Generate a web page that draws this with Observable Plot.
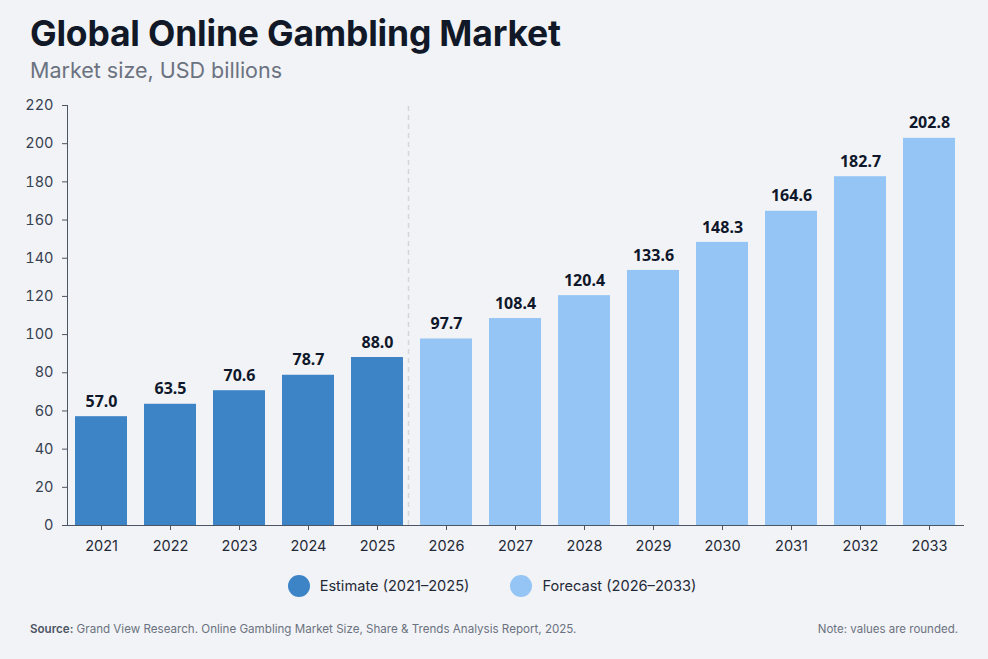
<!DOCTYPE html>
<html><head><meta charset="utf-8">
<script src="https://cdn.jsdelivr.net/npm/d3@7"></script>
<script src="https://cdn.jsdelivr.net/npm/@observablehq/plot@0.6"></script>
<style>
body{margin:0;background:#f2f3f6;font-family:Inter,sans-serif;}
#wrap{position:relative;width:988px;height:659px;overflow:hidden;background:#f2f3f6;}
#title{position:absolute;left:30px;top:11px;font-size:35.5px;line-height:46px;font-weight:750;color:#111827;letter-spacing:-0.2px;white-space:nowrap;}
#subtitle{position:absolute;left:30px;top:56px;font-size:21.5px;line-height:28px;color:#6b7280;white-space:nowrap;}
#chart{position:absolute;left:0;top:90px;}
#legend{position:absolute;left:0;width:988px;top:574px;display:flex;justify-content:center;gap:41px;font-size:14.6px;color:#1f2937;padding-right:4px;box-sizing:border-box;}
.item{display:flex;align-items:center;gap:10px;line-height:24px;}
.sw{width:22px;height:22px;border-radius:50%;display:inline-block;}
#source{position:absolute;left:30px;top:622px;font-size:11.6px;color:#6b7280;white-space:nowrap;}
#source b{font-weight:600;color:#4b5563;}
#note{position:absolute;right:30px;top:622px;font-size:11.5px;color:#6b7280;white-space:nowrap;}
</style></head>
<body>
<div id="wrap">
  <div id="title">Global Online Gambling Market</div>
  <div id="subtitle">Market size, USD billions</div>
  <div id="chart"></div>
  <div id="legend"></div>
  <div id="source"><b>Source:</b> Grand View Research. Online Gambling Market Size, Share &amp; Trends Analysis Report, 2025.</div>
  <div id="note">Note: values are rounded.</div>
</div>
<script>
const years = ["2021","2022","2023","2024","2025","2026","2027","2028","2029","2030","2031","2032","2033"];
const values = [57.0, 63.5, 70.6, 78.7, 88.0, 97.7, 108.4, 120.4, 133.6, 148.3, 164.6, 182.7, 202.8];
const phases = ["Estimate","Estimate","Estimate","Estimate","Estimate","Forecast","Forecast","Forecast","Forecast","Forecast","Forecast","Forecast","Forecast"];
const phaseNames = ["Estimate","Forecast"];
const phaseLabels = ["Estimate (2021–2025)","Forecast (2026–2033)"];
const phaseColors = ["#3d84c6","#94c5f5"];
const yTicks = [0,20,40,60,80,100,120,140,160,180,200,220];
const lastEstimate = "2025";

const data = years.map((year,i)=>({year, value:values[i], phase:phases[i]}));

const chart = Plot.plot({
  width: 988,
  height: 475,
  marginTop: 15,
  marginBottom: 40,
  marginLeft: 67,
  marginRight: 25,
  style: {background:"transparent", fontFamily:"Inter, sans-serif", fontSize:"14.5px", color:"#374151", overflow:"visible"},
  x: {type:"band", domain:years, paddingInner:0.25, paddingOuter:0.087, label:null},
  y: {domain:[0,220], label:null},
  color: {domain:phaseNames, range:phaseColors},
  marks: [
    Plot.ruleX([lastEstimate], {dx: 31, y1:0, y2:220, stroke:"#d4d6dc", strokeWidth:1.5, strokeDasharray:"5,4"}),
    Plot.barY(data, {x:"year", y:"value", fill:"phase"}),
    Plot.frame({anchor:"left", stroke:"#4b5563"}),
    Plot.frame({anchor:"bottom", stroke:"#4b5563"}),
    Plot.axisY({ticks:yTicks, tickSize:5, tickPadding:9, stroke:"#4b5563", fill:"#374151", label:null}),
    Plot.axisX({tickSize:5, tickPadding:10, stroke:"#4b5563", fill:"#1f2937", label:null}),
    Plot.text(data, {x:"year", y:"value", text:d=>d.value.toFixed(1), dy:-15, fontWeight:700, fontSize:16, fill:"#0f172a", fontFamily:"Noto Sans, sans-serif"})
  ]
});
document.getElementById("chart").appendChild(chart);

const legend = document.getElementById("legend");
phaseNames.forEach((p,i)=>{
  const it = document.createElement("div");
  it.className = "item";
  const sw = document.createElement("span");
  sw.className = "sw";
  sw.style.background = chart.scale("color").apply(p);
  const t = document.createElement("span");
  t.textContent = phaseLabels[i];
  it.appendChild(sw); it.appendChild(t);
  legend.appendChild(it);
});
</script>
</body></html>
